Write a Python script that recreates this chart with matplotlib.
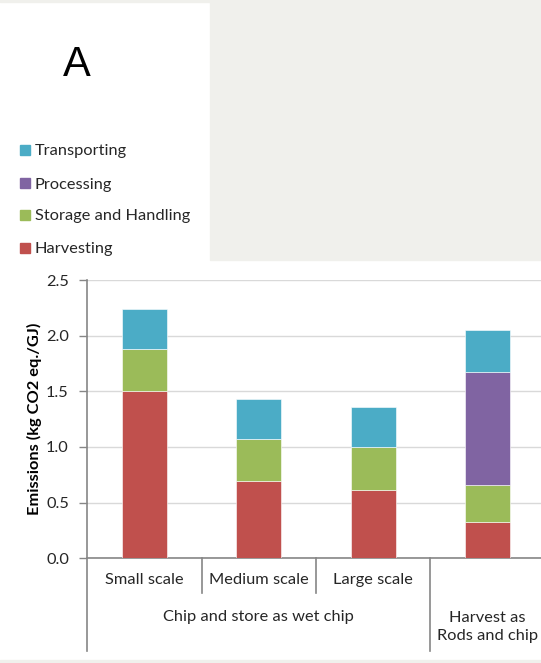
import matplotlib
matplotlib.use("Agg")
import matplotlib.pyplot as plt
from matplotlib.patches import Rectangle
from matplotlib.lines import Line2D
import matplotlib.transforms as mtransforms

# Emission components per supply chain option (kg CO2 eq./GJ)
categories = ["Small scale", "Medium scale", "Large scale", ""]
groups = ["Chip and store as wet chip", "Harvest as\nRods and chip"]
group_spans = [(0, 2), (3, 3)]
harvesting = [1.50, 0.69, 0.61, 0.33]
storage_handling = [0.38, 0.38, 0.39, 0.33]
processing = [0.00, 0.00, 0.00, 1.01]
transporting = [0.36, 0.36, 0.36, 0.38]
series_names = ["Harvesting", "Storage and Handling", "Processing", "Transporting"]
series_colors = ["#C0504D", "#9BBB59", "#8064A2", "#4BACC6"]
yticks = [0.0, 0.5, 1.0, 1.5, 2.0, 2.5]

W, H = 541, 663
FS = 11.8
plt.rcParams["font.family"] = ["Lato", "DejaVu Sans"]
fig = plt.figure(figsize=(W / 100, H / 100), dpi=100)
fig.patch.set_facecolor("white")

def fx(px):
    return px / W

def fy(py):
    return 1 - py / H

# Background panels
fig.patches.append(Rectangle((fx(210), fy(260)), fx(W - 210), 260 / H,
                             transform=fig.transFigure, color="#F0F0EC", zorder=0))
fig.patches.append(Rectangle((0, 0), 1, 3 / H, transform=fig.transFigure,
                             color="#F0F0EC", zorder=0))
fig.patches.append(Rectangle((0, fy(1.5)), 1, 1.5 / H, transform=fig.transFigure,
                             color="#F0F0EC", zorder=0))

# Axes
ax_left, ax_right = 87, 545
ax_top, ax_bottom = 280, 558.3
ax = fig.add_axes([fx(ax_left), fy(ax_bottom), fx(ax_right - ax_left),
                   (ax_bottom - ax_top) / H])
ax.set_facecolor("none")
ax.set_xlim(-0.5, 3.5)
ax.set_ylim(0, 2.5)

x = list(range(len(categories)))
bottom = [0.0] * len(x)
for vals, name, col in zip([harvesting, storage_handling, processing, transporting],
                           series_names, series_colors):
    ax.bar(x, vals, width=0.39, bottom=bottom, color=col, label=name,
           edgecolor="white", linewidth=0.4, zorder=3)
    bottom = [b + v for b, v in zip(bottom, vals)]

axis_col = "#868686"
ax.set_yticks(yticks)
ax.set_yticklabels([f"{t:.1f}" for t in yticks], fontsize=FS, color="#262626")
ax.yaxis.grid(True, color="#D9D9D9", linewidth=1.0, zorder=0)
ax.tick_params(axis="y", length=6, width=1, color=axis_col, pad=7)
ax.set_xticks([])
for s in ["top", "right"]:
    ax.spines[s].set_visible(False)
ax.spines["left"].set_visible(False)
ax.spines["bottom"].set_color(axis_col)
ax.spines["bottom"].set_linewidth(1.2)
ax.set_ylabel("Emissions (kg CO2 eq./GJ)", fontsize=11.8, fontweight="bold",
              labelpad=3, color="black")

# Left axis line extended below the plot into the category table
fig.lines.append(Line2D([fx(ax_left)] * 2, [fy(ax_top), fy(651)],
                        transform=fig.transFigure, color=axis_col, linewidth=1.2))

# Category labels and separators
trans = mtransforms.blended_transform_factory(ax.transData, fig.transFigure)
for i, c in enumerate(categories):
    if c:
        ax.text(i, fy(580), c, transform=trans, ha="center", va="center",
                fontsize=FS, color="#262626")
for b in [0.5, 1.5]:
    fig.lines.append(Line2D([b, b], [fy(ax_bottom), fy(593)], transform=trans,
                            color=axis_col, linewidth=1.2))
fig.lines.append(Line2D([2.5, 2.5], [fy(ax_bottom), fy(651)], transform=trans,
                        color=axis_col, linewidth=1.2))
group_y = [617, 627]
for g, (a, b), gy in zip(groups, group_spans, group_y):
    ax.text((a + b) / 2, fy(gy), g, transform=trans, ha="center", va="center",
            fontsize=FS, color="#262626", linespacing=1.45)

# Panel letter
fig.text(fx(76.5), fy(65), "A", ha="center", va="center", fontsize=30,
         family=["Liberation Sans", "DejaVu Sans"], color="black")

# Legend
legend_rows = [("Transporting", "#4BACC6", 150), ("Processing", "#8064A2", 183),
               ("Storage and Handling", "#9BBB59", 215), ("Harvesting", "#C0504D", 248)]
for name, col, yc in legend_rows:
    fig.patches.append(Rectangle((fx(20), fy(yc + 5)), fx(10), 10 / H,
                                 transform=fig.transFigure, color=col))
    fig.text(fx(35), fy(yc + 1.5), name, ha="left", va="center", fontsize=FS,
             color="#262626")

fig.savefig("out.png", dpi=100)
